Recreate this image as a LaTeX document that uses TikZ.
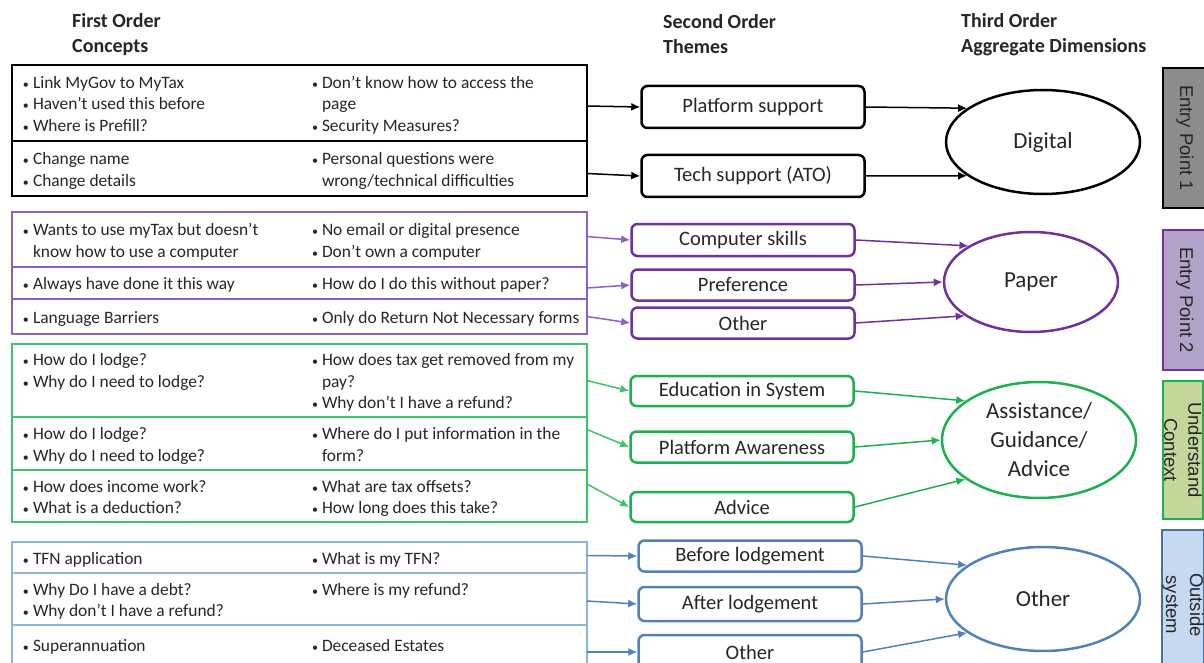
\documentclass[tikz,border=0pt]{standalone}
\usepackage{fontspec}
\setmainfont{Carlito}
\newfontfamily\tabfont{Liberation Sans}
\usetikzlibrary{shapes.geometric, arrows.meta, positioning}

\definecolor{txtgray}{HTML}{262626}
\definecolor{papdark}{HTML}{7030A0}
\definecolor{papline}{HTML}{8F5FC4}
\definecolor{papfill}{HTML}{B3A2C7}
\definecolor{astdark}{HTML}{1DB04E}
\definecolor{astline}{HTML}{3DC46C}
\definecolor{astfill}{HTML}{C4D79B}
\definecolor{othdark}{HTML}{4F81BD}
\definecolor{othline}{HTML}{8EB4E3}
\definecolor{othfill}{HTML}{C6D9F1}
\definecolor{othtab}{HTML}{4A6FA5}
\definecolor{digfill}{HTML}{8C8C8C}

\newcommand{\bul}[1]{\makebox[11pt][l]{\hspace{1pt}{\fontsize{12}{12}\selectfont\textbullet}}#1}
\newcommand{\cont}[1]{\hspace*{11pt}#1}
\newcommand{\concepts}[2]{\raisebox{-2.5pt}[\height][\depth]{\makebox[555pt][l]{%
  \makebox[289pt][l]{\begin{tabular}[t]{@{}l@{}}#1\end{tabular}}%
  \begin{tabular}[t]{@{}l@{}}#2\end{tabular}}}}

\tikzset{
  concept/.style={rectangle, draw=#1, line width=1.5pt, outer sep=0pt,
                  minimum width=575pt, inner xsep=10pt, inner ysep=0pt,
                  text=txtgray, font=\fontsize{17.4}{21.5}\selectfont},
  theme/.style={rectangle, rounded corners=6pt, draw=#1, line width=2.5pt,
                minimum width=223pt, inner sep=0pt, text=txtgray,
                font=\fontsize{20.5}{24}\selectfont},
  dimension/.style={ellipse, draw=#1, line width=2.5pt, inner sep=0pt,
                    text=txtgray, align=center, font=\fontsize{23}{29}\selectfont},
  entry/.style={rectangle, rotate=-90, line width=2pt, minimum height=44pt,
                inner sep=0pt, align=center, text=txtgray,
                font=\tabfont\fontsize{18.5}{24}\selectfont},
  header/.style={anchor=west, inner sep=0pt, align=left, text=txtgray,
                 font=\bfseries\fontsize{20}{25}\selectfont},
  arr/.style={line width=1.5pt, -{Latex[length=9pt, width=8pt]}}
}

\begin{document}
\begin{tikzpicture}[x=1pt, y=-1pt]
  \useasboundingbox (0,0) rectangle (1204,663);
  \clip (0,0) rectangle (1204,663);

  % --- Headers ---
  \node (h_first)  [header] at (72,34.5)  {First Order\\Concepts};
  \node (h_second) [header] at (663,34.5) {Second Order\\Themes};
  \node (h_third)  [header] at (961,34.5) {Third Order\\Aggregate Dimensions};

  % --- Entry Point 1: Digital ---
  \node (dig1) [concept=black, minimum height=76pt, anchor=north west] at (12,65)
    {\concepts{\bul{Link MyGov to MyTax}\\\bul{Haven’t used this before}\\\bul{Where is Prefill?}}
              {\bul{Don’t know how to access the}\\\cont{page}\\\bul{Security Measures?}}};
  \node (dig2) [concept=black, minimum height=55pt, below=0pt of dig1]
    {\concepts{\bul{Change name}\\\bul{Change details}}
              {\bul{Personal questions were}\\\cont{wrong/technical difficulties}}};
  \node (plat) [theme=black, minimum height=42pt] at (753,107) {Platform support};
  \node (tech) [theme=black, minimum height=42pt] at (753,176) {Tech support (ATO)};
  \node (digital) [dimension=black, minimum width=194pt, minimum height=104pt] at (1043,142) {Digital};
  \node (ep1) [entry, draw=black, fill=digfill, minimum width=140pt] at (1185,138) {Entry Point 1};

  % --- Entry Point 2: Paper ---
  \node (pap1) [concept=papline, minimum height=55pt, anchor=north west] at (12,212)
    {\concepts{\bul{Wants to use myTax but doesn’t}\\\cont{know how to use a computer}}
              {\bul{No email or digital presence}\\\bul{Don’t own a computer}}};
  \node (pap2) [concept=papline, minimum height=32pt, below=0pt of pap1]
    {\concepts{\bul{Always have done it this way}}{\bul{How do I do this without paper?}}};
  \node (pap3) [concept=papline, minimum height=35pt, below=0pt of pap2]
    {\concepts{\bul{Language Barriers}}{\bul{Only do Return Not Necessary forms}}};
  \node (comp) [theme=papdark, minimum height=32pt] at (743,240) {Computer skills};
  \node (pref) [theme=papdark, minimum height=31pt] at (743,285) {Preference};
  \node (othp) [theme=papdark, minimum height=31pt] at (743,323) {Other};
  \node (paper) [dimension=papdark, minimum width=174pt, minimum height=100pt] at (1031,282) {Paper};
  \node (ep2) [entry, draw=papdark, fill=papfill, minimum width=140pt] at (1185,300) {Entry Point 2};

  % --- Understand Context: Assistance ---
  \node (ast1) [concept=astline, minimum height=73pt, anchor=north west] at (12,344)
    {\concepts{\bul{How do I lodge?}\\\bul{Why do I need to lodge?}}
              {\bul{How does tax get removed from my}\\\cont{pay?}\\\bul{Why don’t I have a refund?}}};
  \node (ast2) [concept=astline, minimum height=53pt, below=0pt of ast1]
    {\concepts{\bul{How do I lodge?}\\\bul{Why do I need to lodge?}}
              {\bul{Where do I put information in the}\\\cont{form?}}};
  \node (ast3) [concept=astline, minimum height=52pt, below=0pt of ast2]
    {\concepts{\bul{How does income work?}\\\bul{What is a deduction?}}
              {\bul{What are tax offsets?}\\\bul{How long does this take?}}};
  \node (edu) [theme=astdark, minimum height=30pt] at (742,391) {Education in System};
  \node (awa) [theme=astdark, minimum height=31pt] at (742,447) {Platform Awareness};
  \node (adv) [theme=astdark, minimum height=30pt] at (742,507) {Advice};
  \node (assist) [dimension=astdark, minimum width=194pt, minimum height=116pt] at (1039,440)
    {Assistance/\\Guidance/\\Advice};
  \node (ctx) [entry, draw=astdark, fill=astfill, minimum width=138pt, minimum height=40pt]
    at (1183,450) {Understand\\Context};

  % --- Outside system: Other ---
  \node (oth1) [concept=othline, minimum height=31pt, anchor=north west] at (12,542)
    {\concepts{\bul{TFN application}}{\bul{What is my TFN?}}};
  \node (oth2) [concept=othline, minimum height=52pt, below=0pt of oth1]
    {\concepts{\bul{Why Do I have a debt?}\\\bul{Why don’t I have a refund?}}
              {\bul{Where is my refund?}}};
  \node (oth3) [concept=othline, minimum height=40pt, below=0pt of oth2]
    {\concepts{\bul{Superannuation}}{\bul{Deceased Estates}}};
  \node (bef) [theme=othdark, minimum height=31pt] at (750,556) {Before lodgement};
  \node (aft) [theme=othdark, minimum height=34pt] at (750,604) {After lodgement};
  \node (otho) [theme=othdark, minimum height=34pt] at (750,652) {Other};
  \node (other) [dimension=othdark, minimum width=194pt, minimum height=104pt] at (1043,599) {Other};
  \node (out) [entry, draw=othtab, fill=othfill, minimum width=150pt, minimum height=40pt]
    at (1183,605) {Outside\\system};

  % Arrows
  \draw[arr, black]   ([yshift=-3pt]dig1.east) -- (plat.west);
  \draw[arr, black]   ([yshift=-5pt]dig2.east) -- (tech.west);
  \draw[arr, black]   (plat.east) -- (digital.156);
  \draw[arr, black]   (tech.east) -- (digital.204);

  \draw[arr, papline] ([yshift=3pt]pap1.east) -- (comp.west);
  \draw[arr, papline] ([yshift=-5pt]pap2.east) -- (pref.west);
  \draw[arr, papline] (pap3.east) -- (othp.west);
  \draw[arr, papdark] (comp.east) -- (paper.150);
  \draw[arr, papdark] (pref.east) -- (paper.west);
  \draw[arr, papdark] (othp.east) -- (paper.207);

  \draw[arr, astline] (ast1.east) -- (edu.west);
  \draw[arr, astline] ([yshift=14pt]ast2.east) -- (awa.west);
  \draw[arr, astline] ([yshift=12pt]ast3.east) -- (adv.west);
  \draw[arr, astdark] (edu.east) -- (assist.152);
  \draw[arr, astdark] (awa.east) -- (assist.west);
  \draw[arr, astdark] (adv.east) -- (assist.208);

  \draw[arr, othdark] ([yshift=2pt]oth1.east) -- (bef.west);
  \draw[arr, othdark] ([yshift=-2pt]oth2.east) -- (aft.west);
  \draw[arr, othdark] ([yshift=-7pt]oth3.east) -- (otho.west);
  \draw[arr, othdark] (bef.east) -- (other.156);
  \draw[arr, othdark] (aft.east) -- (other.west);
  \draw[arr, othdark] (otho.east) -- (other.204);

\end{tikzpicture}
\end{document}
